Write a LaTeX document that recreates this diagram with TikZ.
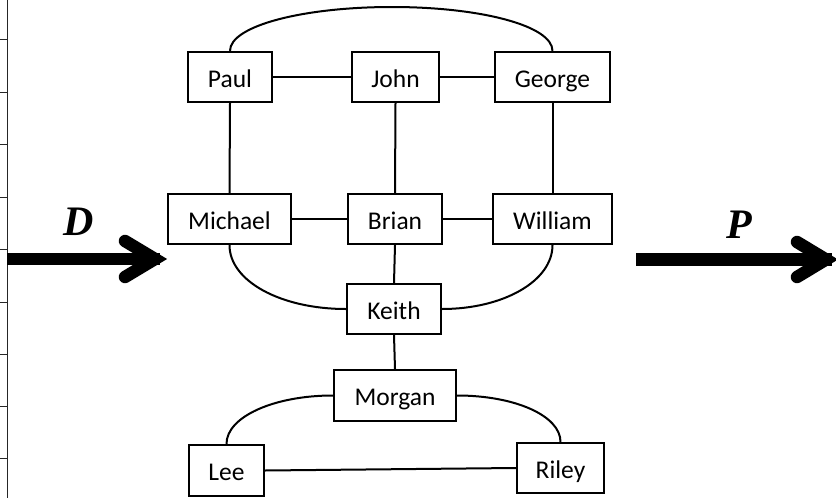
\documentclass[tikz,border=0pt]{standalone}
\usepackage{fontspec}
\setmainfont{Carlito}
\newfontfamily\lblfont{Liberation Serif}
\begin{document}
\begin{tikzpicture}[x=1pt,y=-1pt,
  box/.style={draw, line width=2.3pt, minimum height=50pt, inner sep=0pt,
    text height=20pt, text depth=0pt,
    font=\fontsize{25.5}{28}\selectfont},
  link/.style={line width=2pt},
  bigarrow/.style={line width=12.5pt},
  armstyle/.style={line width=12.5pt, line cap=round, line join=miter},
  ruler/.style={line width=1pt, black!85},
  lbl/.style={font=\lblfont\bfseries\itshape\fontsize{42}{44}\selectfont, inner sep=0pt}]
\useasboundingbox (0,0) rectangle (836,498);

% ruler on the left
\draw[ruler] (7,0) -- (7,498);
\foreach \yy in {39.5,92,144.5,197,249.5,302,354,406,458}
  \draw[ruler] (0,\yy) -- (7,\yy);

% nodes
\node[box, minimum width=84pt]  (Paul)    at (230,77)    {Paul};
\node[box, minimum width=87pt]  (John)    at (395.5,77)  {John};
\node[box, minimum width=115pt] (George)  at (552.5,77)  {George};
\node[box, minimum width=123pt] (Michael) at (229.5,219) {Michael};
\node[box, minimum width=94pt]  (Brian)   at (395,219)   {Brian};
\node[box, minimum width=119pt] (William) at (552.5,219) {William};
\node[box, minimum width=94pt]  (Keith)   at (394,309)   {Keith};
\node[box, minimum width=122pt, minimum height=51pt] (Morgan) at (395,395.5) {Morgan};
\node[box, minimum width=75pt, minimum height=51pt]  (Lee)    at (226.5,470.5) {Lee};
\node[box, minimum width=87pt]  (Riley)   at (560.5,468) {Riley};

\coordinate (top) at (392,7);

% straight links
\draw[link] (Paul.east) -- (John.west);
\draw[link] (John.east) -- (George.west);
\draw[link] (Michael.east) -- (Brian.west);
\draw[link] (Brian.east) -- (William.west);
\draw[link] (Paul.south) -- (Michael.north);
\draw[link] (John.south) -- (Brian.north);
\draw[link] (George.south) -- (William.north);
\draw[link] (Brian.south) -- (Keith.north);
\draw[link] (Keith.south) -- (Morgan.north);
\draw[link] (Lee.east) -- (Riley.west);

% curved links
\draw[link] (Paul.north) .. controls +(0,-25) and +(-89,0) .. (top)
  .. controls +(89,0) and +(0,-25) .. (George.north);
\draw[link] (Michael.south) .. controls +(0,36) and +(-65,0) .. (Keith.west);
\draw[link] (William.south) .. controls +(0,36) and +(61,0) .. (Keith.east);
\draw[link] (Morgan.west) .. controls +(-59,0) and +(0,-27) .. (Lee.north);
\draw[link] (Morgan.east) .. controls +(58,0) and +(0,-26) .. (Riley.north);

% D arrow
\coordinate (d0) at (7,259);
\coordinate (d1) at (160,259);
\coordinate (dt) at (155,259);
\coordinate (du) at (125,241);
\coordinate (dl) at (125,277);
\draw[bigarrow] (d0) -- (d1);
\draw[armstyle] (du) -- (dt) -- (dl);
\node[lbl] (D) at (79,221.5) {D};

% P arrow
\coordinate (p0) at (636,259.5);
\coordinate (p1) at (832,259.5);
\coordinate (pt) at (826,259.5);
\coordinate (pu) at (797,242);
\coordinate (pl) at (797,277);
\draw[bigarrow] (p0) -- (p1);
\draw[armstyle] (pu) -- (pt) -- (pl);
\node[lbl] (P) at (739,225) {P};
\end{tikzpicture}
\end{document}
